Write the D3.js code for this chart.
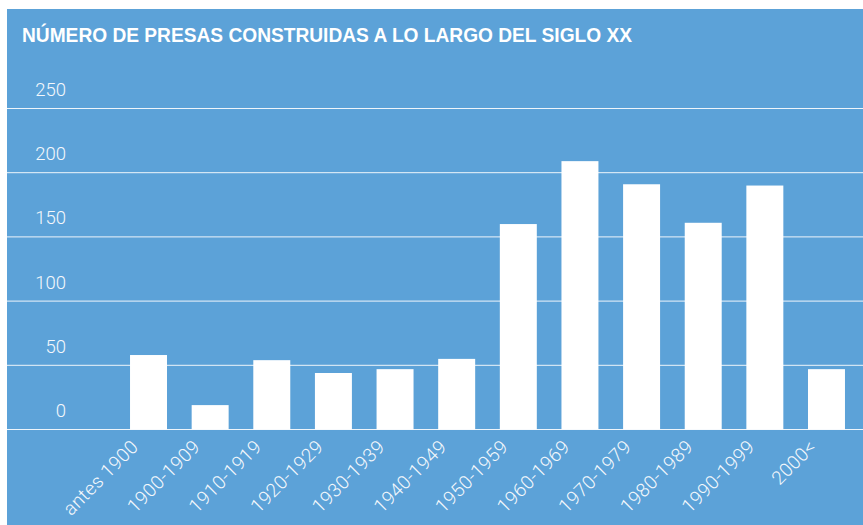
<!DOCTYPE html>
<html>
<head>
<meta charset="utf-8">
<script src="https://cdn.jsdelivr.net/npm/d3@7"></script>
<style>
  html, body { margin: 0; padding: 0; background: #ffffff; }
  svg { display: block; }
</style>
</head>
<body>
<div id="chart"></div>
<script>
// data
var categories = ["antes 1900", "1900-1909", "1910-1919", "1920-1929", "1930-1939", "1940-1949",
                  "1950-1959", "1960-1969", "1970-1979", "1980-1989", "1990-1999", "2000<"];
var presas = [58, 19, 54, 44, 47, 55, 160, 209, 191, 161, 190, 47];
var yTicks = [0, 50, 100, 150, 200, 250];
var titulo = "NÚMERO DE PRESAS CONSTRUIDAS A LO LARGO DEL SIGLO XX";

var w = 863, h = 525;
var bg = "#5ca2d8";

var svg = d3.select("#chart")
  .append("svg")
  .attr("width", w)
  .attr("height", h);

// blue panel
svg.append("rect")
  .attr("x", 7)
  .attr("y", 9)
  .attr("width", w - 7)
  .attr("height", h - 9)
  .attr("fill", bg);

var xScale = d3.scaleBand()
  .domain(categories)
  .range([117.7, 857.3])
  .paddingInner(0.4)
  .paddingOuter(0.2);

var yScale = d3.scaleLinear()
  .domain([0, 250])
  .range([429.5, 108.5]);

// gridlines
svg.selectAll(".grid")
  .data(yTicks)
  .enter()
  .append("line")
  .attr("class", "grid")
  .attr("x1", 7)
  .attr("x2", w)
  .attr("y1", function(d){ return yScale(d); })
  .attr("y2", function(d){ return yScale(d); })
  .attr("stroke", "#eef5fb")
  .attr("stroke-width", 1);

// y labels sit above their line
svg.selectAll(".ylab")
  .data(yTicks)
  .enter()
  .append("text")
  .attr("class", "ylab")
  .attr("x", 66)
  .attr("y", function(d){ return yScale(d) - 12.5; })
  .attr("text-anchor", "end")
  .attr("fill", "#f4f8fc")
  .style("font-family", "Roboto, 'Liberation Sans', sans-serif")
  .style("font-weight", 300)
  .style("font-size", "18.5px")
  .text(function(d){ return d; });

// bars
svg.selectAll(".bar")
  .data(presas)
  .enter()
  .append("rect")
  .attr("class", "bar")
  .attr("x", function(d, i){ return xScale(categories[i]); })
  .attr("width", xScale.bandwidth())
  .attr("y", function(d){ return yScale(d); })
  .attr("height", function(d){ return yScale(0) - yScale(d); })
  .attr("fill", "#ffffff");

// x labels, rotated
svg.selectAll(".xlab")
  .data(categories)
  .enter()
  .append("text")
  .attr("class", "xlab")
  .attr("text-anchor", "end")
  .attr("transform", function(d){
    var cx = xScale(d) + xScale.bandwidth() / 2 - 9;
    return "translate(" + cx + ",448) rotate(-45)";
  })
  .attr("fill", "#f4f8fc")
  .style("font-family", "Roboto, 'Liberation Sans', sans-serif")
  .style("font-weight", 300)
  .style("font-size", "19px")
  .style("letter-spacing", "0.4px")
  .text(function(d){ return d; });

// title
svg.append("text")
  .attr("x", 22)
  .attr("y", 42)
  .attr("fill", "#ffffff")
  .attr("textLength", 610)
  .attr("lengthAdjust", "spacingAndGlyphs")
  .style("font-family", "'Liberation Sans', Arial, sans-serif")
  .style("font-weight", "bold")
  .style("font-size", "19.5px")
  .text(titulo);
</script>
</body>
</html>
